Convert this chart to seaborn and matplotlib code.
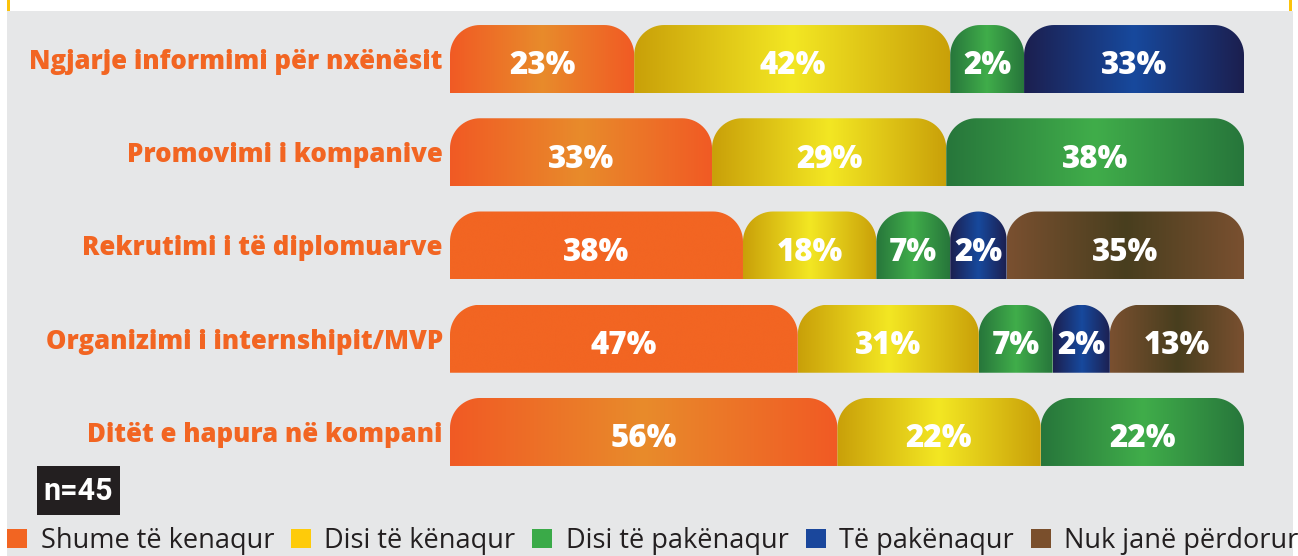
import numpy as np
import pandas as pd
import seaborn as sns
import matplotlib.pyplot as plt
from matplotlib.path import Path
from matplotlib.patches import PathPatch, Rectangle, Patch
from matplotlib.colors import LinearSegmentedColormap

sns.set_theme(style='white')
plt.rcParams['font.family'] = ['Open Sans', 'DejaVu Sans']

# dane z wykresu
items = ['Ngjarje informimi për nxënësit', 'Promovimi i kompanive', 'Rekrutimi i të diplomuarve',
         'Organizimi i internshipit/MVP', 'Ditët e hapura në kompani']
series = ['Shume të kenaqur', 'Disi të kënaqur', 'Disi të pakënaqur', 'Të pakënaqur', 'Nuk janë përdorur']
# wartosci procentowe (etykiety)
shume = [23, 33, 38, 47, 56]
disi_kenaqur = [42, 29, 18, 31, 22]
disi_pakenaqur = [2, 38, 7, 7, 22]
te_pakenaqur = [33, 0, 2, 2, 0]
nuk_perdorur = [0, 0, 35, 13, 0]
# szerokosci pasków tak jak narysowane w oryginale (% osi)
w_shume = [23.2, 33.0, 36.9, 43.8, 48.8]
w_disi_kenaqur = [39.8, 29.5, 16.8, 22.8, 25.6]
w_disi_pakenaqur = [9.3, 37.5, 9.3, 9.3, 25.6]
w_te_pakenaqur = [27.7, 0, 7.1, 7.2, 0]
w_nuk_perdorur = [0, 0, 29.9, 16.9, 0]
n_text = 'n=45'

labels = pd.DataFrame([shume, disi_kenaqur, disi_pakenaqur, te_pakenaqur, nuk_perdorur], index=series, columns=items).T
widths = pd.DataFrame([w_shume, w_disi_kenaqur, w_disi_pakenaqur, w_te_pakenaqur, w_nuk_perdorur], index=series, columns=items).T

# kolory: (brzeg, srodek) gradientu, kolor legendy
grad = {
    'Shume të kenaqur': ('#f15a24', '#e88b2b'),
    'Disi të kënaqur': ('#c9a009', '#f3e723'),
    'Disi të pakënaqur': ('#27763b', '#40ad4a'),
    'Të pakënaqur': ('#1c1f4f', '#17499d'),
    'Nuk janë përdorur': ('#7a5030', '#483e1e'),
}
leg_colors = ['#f26522', '#fecb0a', '#3aaa48', '#1a479c', '#7a4f2c']
plain_orange = [2, 3]  # wiersze gdzie pomarańczowy jest jednolity

W, H = 1298, 556
fig = plt.figure(figsize=(W / 100, H / 100), dpi=100)
fig.patch.set_facecolor('white')
fig.add_artist(Rectangle((7 / W, 0), (1293 - 7) / W, (H - 11) / H, transform=fig.transFigure,
                         facecolor='#e6e7e8', edgecolor='none', zorder=0))
for xl in (7, 1289):
    fig.add_artist(Rectangle((xl / W, (H - 11) / H), 3 / W, 11 / H, transform=fig.transFigure,
                             facecolor='#fcc30b', edgecolor='none', zorder=0))

top_px, bot_px = 12.4, 478.6
ax = fig.add_axes([450 / W, 1 - bot_px / H, 794 / W, (bot_px - top_px) / H])
ax.patch.set_alpha(0)
px_x = 794 / 100
px_y = (bot_px - top_px) / 5
bar_h = 68 / px_y


def tab_path(left, w, yc):
    # pasek z zaokraglonymi gornymi rogami
    r = min(30, w * px_x / 2)
    rx, ry = r / px_x, r / px_y
    top, bot = yc - bar_h / 2, yc + bar_h / 2
    t = np.linspace(np.pi, np.pi / 2, 20)
    pts = [(left, bot), (left, top + ry)]
    pts += [(left + rx + rx * np.cos(a), top + ry - ry * np.sin(a)) for a in t]
    t2 = np.linspace(np.pi / 2, 0, 20)
    pts += [(left + w - rx + rx * np.cos(a), top + ry - ry * np.sin(a)) for a in t2]
    pts += [(left + w, bot), (left, bot)]
    return Path(pts, closed=True)


for i, item in enumerate(items):
    left = 0
    for s in series:
        w = widths.loc[item, s]
        if w <= 0:
            continue
        path = tab_path(left, w, i)
        pp = PathPatch(path, transform=ax.transData, facecolor='none', edgecolor='none')
        ax.add_patch(pp)
        edge, mid = grad[s]
        if s == series[0] and i in plain_orange:
            mid = '#f26522'
            edge = '#f26522'
        cmap = LinearSegmentedColormap.from_list(s, [edge, mid, edge])
        im = ax.imshow(np.linspace(0, 1, 256).reshape(1, -1), cmap=cmap, aspect='auto',
                       extent=(left, left + w, i + bar_h / 2, i - bar_h / 2), interpolation='bicubic')
        im.set_clip_path(pp)
        ax.text(left + w / 2, i + 0.08, '%d%%' % labels.loc[item, s], color='white', fontsize=22.5,
                fontweight='heavy', ha='center', va='center')
        left += w
    ax.text(-0.9, i + 0.03, item, color='#f26522', fontsize=18.5, fontweight='heavy', ha='right', va='center')

ax.set_xlim(0, 100)
ax.set_ylim(4.5, -0.5)
ax.axis('off')

# n=45
fig.add_artist(Rectangle((37 / W, 1 - 515 / H), 83 / W, 49 / H, transform=fig.transFigure,
                         facecolor='#231f20', edgecolor='none'))
fig.text(78.5 / W, 1 - 491 / H, n_text, color='white', fontsize=22, fontweight='bold', ha='center', va='center',
         family=['Roboto', 'DejaVu Sans'])

handles = [Patch(facecolor=c, edgecolor='none') for c in leg_colors]
fig.legend(handles, series, ncol=5, loc='center left', bbox_to_anchor=(7 / W, 15 / H), frameon=False,
           fontsize=19.5, handlelength=0.74, handleheight=0.74, handletextpad=0.5, columnspacing=0.62,
           borderaxespad=0, borderpad=0, labelcolor='#231f20')

fig.savefig('out.png', dpi=100)
